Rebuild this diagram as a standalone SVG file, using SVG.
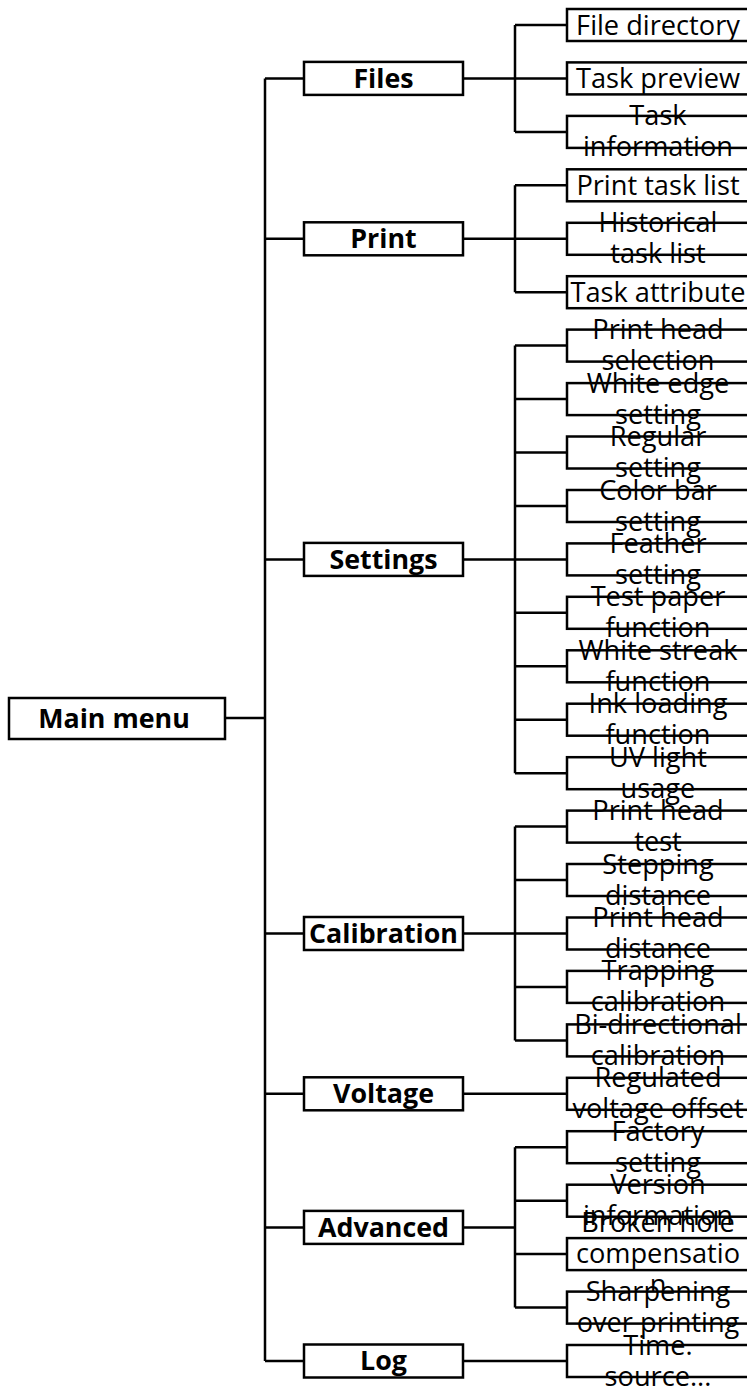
<svg xmlns="http://www.w3.org/2000/svg" width="747" height="1389" viewBox="0 0 747 1389">
<style>
.box{fill:#fff;stroke:#000;stroke-width:2.5}
.ln{fill:none;stroke:#000;stroke-width:2.5}
.b{font-family:"Open Sans","Noto Sans",sans-serif;font-weight:bold;font-size:26.8px;text-anchor:middle;fill:#000}
.t{font-family:"Open Sans","Noto Sans",sans-serif;font-size:27.2px;text-anchor:middle;fill:#000}
</style>
<rect width="747" height="1389" fill="#fff"/>
<g id="connectors" class="ln">
<path d="M225,718H265M265,78.4V1361"/>
<path d="M265,78.4H304M265,238.8H304M265,559.4H304M265,933.5H304M265,1093.8H304M265,1227.4H304M265,1361H304"/>
<path d="M463,78.4H515M515,25V131.9M515,25H567M515,78.4H567M515,131.9H567"/>
<path d="M463,238.8H515M515,185.3V292.2M515,185.3H567M515,238.8H567M515,292.2H567"/>
<path d="M463,559.4H515M515,345.6V773.2M515,345.6H567M515,399.1H567M515,452.5H567M515,506H567M515,559.4H567M515,612.8H567M515,666.3H567M515,719.7H567M515,773.2H567"/>
<path d="M463,933.5H515M515,826.6V1040.4M515,826.6H567M515,880H567M515,933.5H567M515,986.9H567M515,1040.4H567"/>
<path d="M463,1093.8H567"/>
<path d="M463,1227.4H515M515,1147.2V1307.6M515,1147.2H567M515,1200.7H567M515,1254.1H567M515,1307.6H567"/>
<path d="M463,1361H567"/>
</g>
<g id="main"><rect class="box" x="9" y="698" width="216" height="41"/><text class="b" x="114" y="728">Main menu</text></g>
<g id="files"><rect class="box" x="304" y="61.9" width="159" height="33"/><text class="b" x="383.5" y="87.7">Files</text></g>
<g id="print"><rect class="box" x="304" y="222.3" width="159" height="33"/><text class="b" x="383.5" y="248.1">Print</text></g>
<g id="settings"><rect class="box" x="304" y="542.9" width="159" height="33"/><text class="b" x="383.5" y="568.7">Settings</text></g>
<g id="calibration"><rect class="box" x="304" y="917" width="159" height="33"/><text class="b" x="383.5" y="942.8">Calibration</text></g>
<g id="voltage"><rect class="box" x="304" y="1077.3" width="159" height="33"/><text class="b" x="383.5" y="1103.1">Voltage</text></g>
<g id="advanced"><rect class="box" x="304" y="1210.9" width="159" height="33"/><text class="b" x="383.5" y="1236.7">Advanced</text></g>
<g id="log"><rect class="box" x="304" y="1344.5" width="159" height="33"/><text class="b" x="383.5" y="1370.3">Log</text></g>
<g id="leaf0"><rect class="box" x="567" y="9" width="184" height="32"/><text class="t" x="658" y="34.5">File directory</text></g>
<g id="leaf1"><rect class="box" x="567" y="62.4" width="184" height="32"/><text class="t" x="658" y="87.9">Task preview</text></g>
<g id="leaf2"><rect class="box" x="567" y="115.9" width="184" height="32"/><text class="t"><tspan x="658" y="125.4">Task</tspan><tspan x="658" y="156.4">information</tspan></text></g>
<g id="leaf3"><rect class="box" x="567" y="169.3" width="184" height="32"/><text class="t" x="658" y="194.8">Print task list</text></g>
<g id="leaf4"><rect class="box" x="567" y="222.8" width="184" height="32"/><text class="t"><tspan x="658" y="232.3">Historical</tspan><tspan x="658" y="263.3">task list</tspan></text></g>
<g id="leaf5"><rect class="box" x="567" y="276.2" width="184" height="32"/><text class="t" x="658" y="301.7">Task attribute</text></g>
<g id="leaf6"><rect class="box" x="567" y="329.6" width="184" height="32"/><text class="t"><tspan x="658" y="339.1">Print head</tspan><tspan x="658" y="370.1">selection</tspan></text></g>
<g id="leaf7"><rect class="box" x="567" y="383.1" width="184" height="32"/><text class="t"><tspan x="658" y="392.6">White edge</tspan><tspan x="658" y="423.6">setting</tspan></text></g>
<g id="leaf8"><rect class="box" x="567" y="436.5" width="184" height="32"/><text class="t"><tspan x="658" y="446">Regular</tspan><tspan x="658" y="477">setting</tspan></text></g>
<g id="leaf9"><rect class="box" x="567" y="490" width="184" height="32"/><text class="t"><tspan x="658" y="499.5">Color bar</tspan><tspan x="658" y="530.5">setting</tspan></text></g>
<g id="leaf10"><rect class="box" x="567" y="543.4" width="184" height="32"/><text class="t"><tspan x="658" y="552.9">Feather</tspan><tspan x="658" y="583.9">setting</tspan></text></g>
<g id="leaf11"><rect class="box" x="567" y="596.8" width="184" height="32"/><text class="t"><tspan x="658" y="606.3">Test paper</tspan><tspan x="658" y="637.3">function</tspan></text></g>
<g id="leaf12"><rect class="box" x="567" y="650.3" width="184" height="32"/><text class="t"><tspan x="658" y="659.8">White streak</tspan><tspan x="658" y="690.8">function</tspan></text></g>
<g id="leaf13"><rect class="box" x="567" y="703.7" width="184" height="32"/><text class="t"><tspan x="658" y="713.2">Ink loading</tspan><tspan x="658" y="744.2">function</tspan></text></g>
<g id="leaf14"><rect class="box" x="567" y="757.2" width="184" height="32"/><text class="t"><tspan x="658" y="766.7">UV light</tspan><tspan x="658" y="797.7">usage</tspan></text></g>
<g id="leaf15"><rect class="box" x="567" y="810.6" width="184" height="32"/><text class="t"><tspan x="658" y="820.1">Print head</tspan><tspan x="658" y="851.1">test</tspan></text></g>
<g id="leaf16"><rect class="box" x="567" y="864" width="184" height="32"/><text class="t"><tspan x="658" y="873.5">Stepping</tspan><tspan x="658" y="904.5">distance</tspan></text></g>
<g id="leaf17"><rect class="box" x="567" y="917.5" width="184" height="32"/><text class="t"><tspan x="658" y="927">Print head</tspan><tspan x="658" y="958">distance</tspan></text></g>
<g id="leaf18"><rect class="box" x="567" y="970.9" width="184" height="32"/><text class="t"><tspan x="658" y="980.4">Trapping</tspan><tspan x="658" y="1011.4">calibration</tspan></text></g>
<g id="leaf19"><rect class="box" x="567" y="1024.4" width="184" height="32"/><text class="t"><tspan x="658" y="1033.9">Bi-directional</tspan><tspan x="658" y="1064.9">calibration</tspan></text></g>
<g id="leaf20"><rect class="box" x="567" y="1077.8" width="184" height="32"/><text class="t"><tspan x="658" y="1087.3">Regulated</tspan><tspan x="658" y="1118.3">voltage offset</tspan></text></g>
<g id="leaf21"><rect class="box" x="567" y="1131.2" width="184" height="32"/><text class="t"><tspan x="658" y="1140.7">Factory</tspan><tspan x="658" y="1171.7">setting</tspan></text></g>
<g id="leaf22"><rect class="box" x="567" y="1184.7" width="184" height="32"/><text class="t"><tspan x="658" y="1194.2">Version</tspan><tspan x="658" y="1225.2">information</tspan></text></g>
<g id="leaf23"><rect class="box" x="567" y="1238.1" width="184" height="32"/><text class="t"><tspan x="658" y="1232.1">Broken hole</tspan><tspan x="658" y="1263.1">compensatio</tspan><tspan x="658" y="1294.1">n</tspan></text></g>
<g id="leaf24"><rect class="box" x="567" y="1291.6" width="184" height="32"/><text class="t"><tspan x="658" y="1301.1">Sharpening</tspan><tspan x="658" y="1332.1">over printing</tspan></text></g>
<g id="leaf25"><rect class="box" x="567" y="1345" width="184" height="32"/><text class="t"><tspan x="658" y="1354.5">Time.</tspan><tspan x="658" y="1385.5">source...</tspan></text></g>
</svg>
